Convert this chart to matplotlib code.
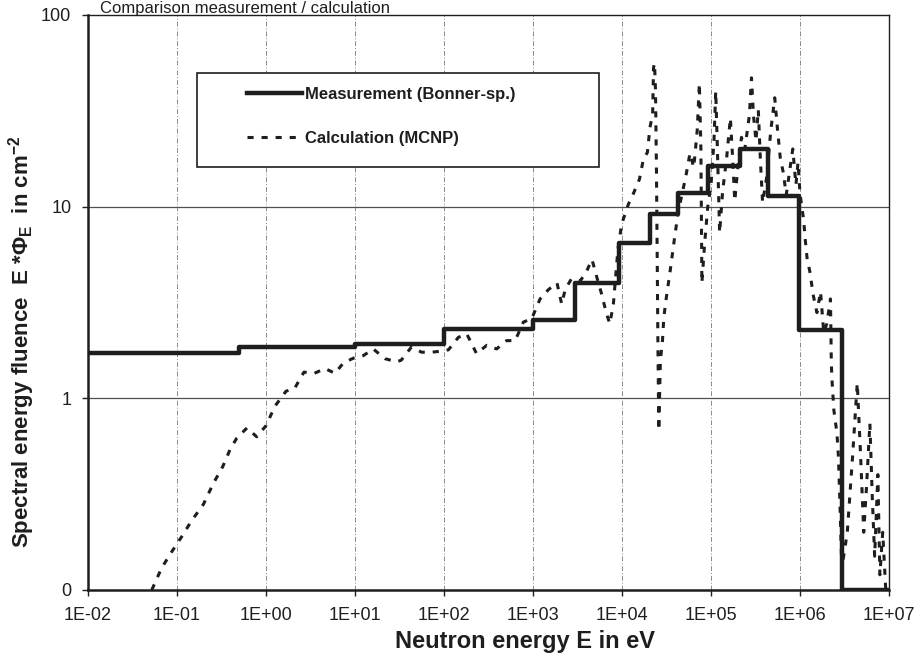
import matplotlib
matplotlib.use("Agg")
import matplotlib.pyplot as plt
from matplotlib.patches import Rectangle

plt.rcParams['font.family'] = ['Liberation Sans', 'DejaVu Sans']
plt.rcParams['mathtext.fontset'] = 'custom'
plt.rcParams['mathtext.rm'] = 'Liberation Sans:bold'
plt.rcParams['mathtext.default'] = 'rm'

# Measurement (Bonner sphere) - group boundaries in eV and fluence per group
meas_edges = [0.01, 0.5, 10, 100, 1000, 2950, 9300, 2.05e4, 4.3e4, 9.3e4,
              2.1e5, 4.4e5, 9.8e5, 2.95e6, 1e7]
meas_vals = [1.72, 1.85, 1.93, 2.29, 2.55, 4.0, 6.5, 9.2, 11.8, 16.2,
             20.0, 11.4, 2.26, 0.1]

# Calculation (MCNP)
calc_e = [0.052, 0.067, 0.087, 0.113, 0.146, 0.198, 0.256, 0.326, 0.394, 0.469,
          0.61, 0.786, 1.0, 1.26, 1.68, 2.08, 2.67, 3.49, 4.6, 5.96,
          7.4, 9.6, 12.4, 16, 21.7, 29.4, 33, 43, 56, 73,
          90, 112, 145, 180, 232, 302, 390, 505, 630, 780,
          966, 1200, 1500, 1860, 2100, 2300, 2700, 3400, 4000, 4600,
          5200, 5900, 6700, 7300, 8000, 8300, 9000, 9900, 11800, 12900,
          15700, 17400, 19300, 20600, 22100, 22600, 23200, 23800, 24100, 24400,
          24700, 25000, 25300, 25600, 25900, 27000, 28500, 29500, 31600, 34500,
          39000, 43000, 48000, 53000, 58000, 64000, 70000, 74000, 77000, 79000,
          85000, 92000, 1.0e5, 1.08e5, 1.13e5, 1.18e5, 1.25e5, 1.35e5, 1.5e5, 1.65e5,
          1.75e5, 1.85e5, 2.0e5, 2.2e5, 2.4e5, 2.7e5, 2.85e5, 3.0e5, 3.2e5, 3.4e5,
          3.6e5, 3.8e5, 4.2e5, 4.7e5, 5.2e5, 5.6e5, 6.0e5, 6.5e5, 7.0e5, 7.6e5,
          8.3e5, 9.0e5, 9.5e5, 1.0e6, 1.1e6, 1.15e6, 1.2e6, 1.3e6, 1.4e6, 1.55e6,
          1.7e6, 1.85e6, 2.0e6, 2.2e6, 2.25e6, 2.3e6, 2.4e6, 2.6e6, 2.7e6, 2.8e6,
          2.95e6, 3.4e6, 3.9e6, 4.4e6, 4.8e6, 5.2e6, 5.6e6, 6.1e6, 6.5e6, 6.9e6,
          7.5e6, 7.9e6, 8.5e6, 9.2e6, 1.0e7]
calc_v = [0.10, 0.13, 0.158, 0.19, 0.23, 0.28, 0.36, 0.44, 0.54, 0.62,
          0.70, 0.63, 0.72, 0.91, 1.09, 1.12, 1.37, 1.35, 1.43, 1.35,
          1.53, 1.62, 1.67, 1.81, 1.61, 1.55, 1.58, 1.85, 1.74, 1.74,
          1.76, 1.79, 2.08, 2.17, 1.71, 1.89, 1.81, 2.0, 2.0, 2.5,
          2.6, 3.3, 3.7, 4.0, 3.1, 3.7, 4.2, 4.1, 4.6, 5.3,
          4.3, 3.5, 2.76, 2.45, 3.1, 3.8, 6.0, 8.1, 10.3, 11.2,
          13.9, 17.7, 19.2, 25.9, 30.4, 53, 56, 40, 25, 15,
          8, 4, 2, 1.2, 0.68, 1.58, 2.0, 2.65, 3.4, 4.5,
          6.9, 9.5, 12, 15, 19, 16, 25, 44, 20, 4,
          6.5, 10, 13, 22, 40, 20, 7.3, 12, 18, 29,
          18, 10.7, 16, 23, 20, 30, 47, 30, 22, 32,
          17, 10.5, 14, 25, 37, 25, 18, 15, 11.5, 15,
          20, 13, 17, 11.7, 8.5, 6.6, 5.4, 4.5, 3.5, 2.8,
          3.6, 2.2, 2.45, 3.3, 1.5, 1.2, 0.87, 0.66, 0.5, 0.3,
          0.13, 0.2, 0.5, 1.2, 0.5, 0.2, 0.35, 0.74, 0.3, 0.15,
          0.4, 0.12, 0.2, 0.1, 0.1]

x_ticks = [1e-2, 1e-1, 1e0, 1e1, 1e2, 1e3, 1e4, 1e5, 1e6, 1e7]
x_labels = ['1E-02', '1E-01', '1E+00', '1E+01', '1E+02', '1E+03', '1E+04',
            '1E+05', '1E+06', '1E+07']
y_ticks = [0.1, 1, 10, 100]
y_labels = ['0', '1', '10', '100']

ink = '#1e1e1e'

fig = plt.figure(figsize=(9.18, 6.6), dpi=100)
ax = fig.add_axes([0.0959, 0.1061, 0.8725, 0.8712])
ax.set_xscale('log')
ax.set_yscale('log')
ax.set_xlim(1e-2, 1e7)
ax.set_ylim(0.1, 100)

# grid: dashed verticals, solid horizontals
for xv in x_ticks[1:-1]:
    ax.axvline(xv, color='#8a8a8a', lw=0.7, ls=(0, (5, 2, 1, 2)), zorder=1)
for yv in y_ticks[1:-1]:
    ax.axhline(yv, color='#505050', lw=0.9, zorder=1)

ax.plot(calc_e, calc_v, color=ink, lw=2.2, ls=(0, (2, 2.6)),
        label='Calculation (MCNP)', zorder=3)
ax.step(meas_edges, meas_vals + [meas_vals[-1]], where='post', color=ink,
        lw=3.2, label='Measurement (Bonner-sp.)', zorder=4)

ax.set_xticks(x_ticks)
ax.set_xticklabels(x_labels)
ax.set_yticks(y_ticks)
ax.set_yticklabels(y_labels)
ax.minorticks_off()
ax.tick_params(axis='both', labelsize=13, colors=ink, length=4, width=1)
ax.tick_params(axis='y', pad=8)
ax.tick_params(axis='x', pad=8)

for side in ['left', 'bottom']:
    ax.spines[side].set_linewidth(1.8)
for side in ['right', 'top']:
    ax.spines[side].set_linewidth(1.0)
for sp in ax.spines.values():
    sp.set_color(ink)

ax.set_xlabel('Neutron energy E in eV', fontsize=17, fontweight='bold',
              color=ink)
ax.xaxis.set_label_coords(0.5456, -0.069)
ax.set_ylabel(r'Spectral energy fluence  E *Φ$_{E}$  in cm$^{-2}$', fontsize=16,
              fontweight='bold', color=ink)
ax.yaxis.set_label_coords(-0.064, 0.431)

# legend box
ax.add_patch(Rectangle((0.136, 0.736), 0.502, 0.1635, transform=ax.transAxes,
                       facecolor='white', edgecolor=ink, lw=1.2, zorder=5))
handles, labels = ax.get_legend_handles_labels()
leg = ax.legend(handles[::-1], labels[::-1], loc='center left',
                bbox_to_anchor=(0.198, 0.8235), frameon=False,
                prop={'weight': 'bold', 'size': 12}, handlelength=3.3,
                handletextpad=0.2, labelspacing=1.7, borderpad=0,
                borderaxespad=0)
leg.set_zorder(6)
for t in leg.get_texts():
    t.set_color(ink)

fig.text(0.109, 1 - 13 / 660, 'Comparison measurement / calculation', fontsize=12,
         color=ink, va='baseline', ha='left')

fig.savefig('out.png', dpi=100, facecolor='white')
